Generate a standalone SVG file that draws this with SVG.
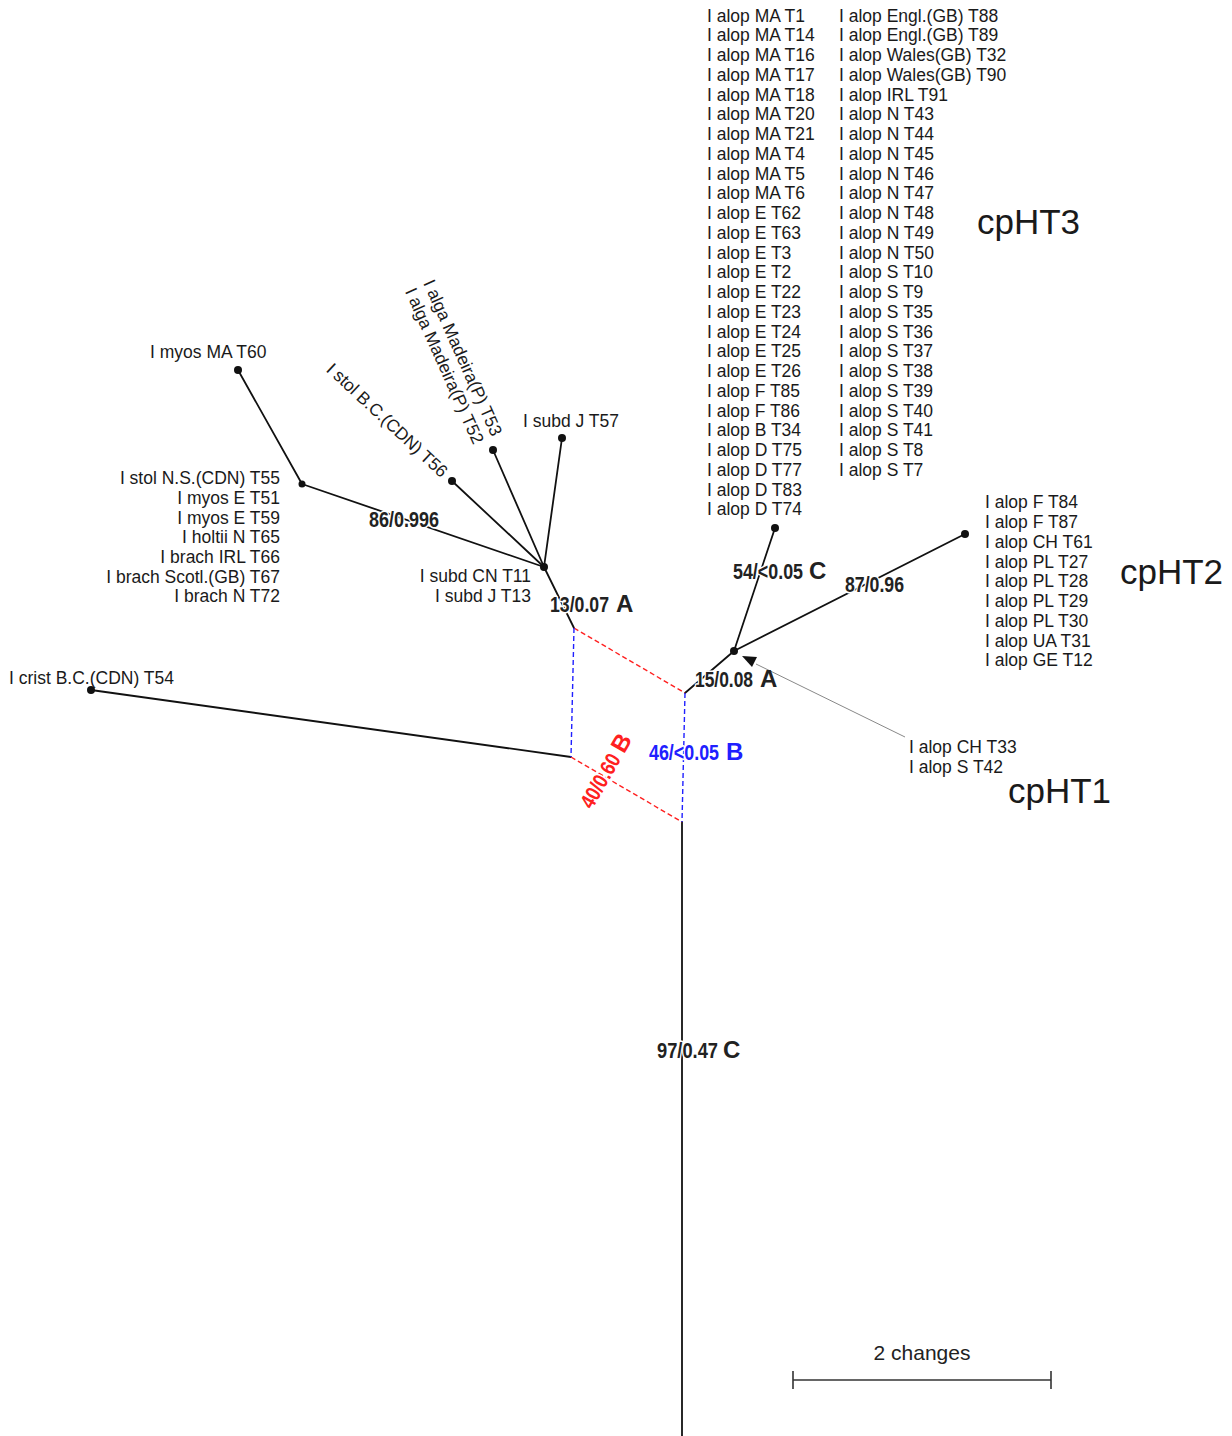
<svg xmlns="http://www.w3.org/2000/svg" width="1232" height="1436" viewBox="0 0 1232 1436">
<style>
.br{stroke:#111;stroke-width:1.8;fill:none;stroke-linecap:round}
.rd{stroke:#ff2020;stroke-width:1.4;stroke-dasharray:5 3;fill:none}
.bd{stroke:#2020ff;stroke-width:1.4;stroke-dasharray:5 3;fill:none}
.dot{fill:#111}
.lb{font-family:"Liberation Sans",Arial,sans-serif;font-size:17.5px;fill:#1a1a1a}
.big{font-family:"Liberation Sans",Arial,sans-serif;font-size:35px;fill:#1a1a1a}
.sv{font-family:"Liberation Sans",Arial,sans-serif;font-size:21.5px;font-weight:bold;fill:#222;stroke:#fff;stroke-width:3;paint-order:stroke;stroke-linejoin:round}
.lt{font-family:"Liberation Sans",Arial,sans-serif;font-size:24px;font-weight:bold;fill:#222}
.red{fill:#ff2020}
.blue{fill:#2020ff}
</style>
<rect width="1232" height="1436" fill="#fff"/>
<g id="connectors">
<line class="br" x1="544" y1="567" x2="302" y2="484"/>
<line class="br" x1="302" y1="484" x2="238" y2="370"/>
<line class="br" x1="544" y1="567" x2="452" y2="481"/>
<line class="br" x1="544" y1="567" x2="493" y2="450"/>
<line class="br" x1="544" y1="567" x2="562" y2="438"/>
<line class="br" x1="544" y1="567" x2="574" y2="628"/>
<line class="br" x1="685" y1="693" x2="734" y2="651"/>
<line class="br" x1="734" y1="651" x2="775" y2="528"/>
<line class="br" x1="734" y1="651" x2="965" y2="534"/>
<line class="br" x1="571" y1="757" x2="91" y2="690"/>
<line class="br" x1="682" y1="822" x2="682" y2="1436"/>
<line class="rd" x1="574" y1="628" x2="685" y2="693"/>
<line class="rd" x1="571" y1="757" x2="682" y2="822"/>
<line class="bd" x1="574" y1="628" x2="571" y2="757"/>
<line class="bd" x1="685" y1="693" x2="682" y2="822"/>
<line x1="905" y1="737" x2="756" y2="664" stroke="#888" stroke-width="1"/>
<polygon points="742,656 757,657 752,667" fill="#111"/>
</g>
<g id="node-hubA">
<circle class="dot" cx="544" cy="567" r="4"/>
<text class="lb" text-anchor="end"><tspan x="531" y="582">I subd CN T11</tspan><tspan x="531" y="602">I subd J T13</tspan></text>
</g>
<g id="node-hub-left">
<circle class="dot" cx="302" cy="484" r="3.5"/>
<text class="lb" text-anchor="end"><tspan x="280" y="484.3">I stol N.S.(CDN) T55</tspan><tspan x="280" dy="19.67">I myos E T51</tspan><tspan x="280" dy="19.67">I myos E T59</tspan><tspan x="280" dy="19.67">I holtii N T65</tspan><tspan x="280" dy="19.67">I brach IRL T66</tspan><tspan x="280" dy="19.67">I brach Scotl.(GB) T67</tspan><tspan x="280" dy="19.67">I brach N T72</tspan></text>
</g>
<g id="node-T60">
<circle class="dot" cx="238" cy="370" r="4"/>
<text class="lb" x="150" y="358">I myos MA T60</text>
</g>
<g id="node-T56">
<circle class="dot" cx="452" cy="481" r="4"/>
<g transform="translate(445,474) rotate(43)"><text class="lb" x="0" y="6" text-anchor="end" textLength="158" lengthAdjust="spacing">I stol B.C.(CDN) T56</text></g>
</g>
<g id="node-T53">
<circle class="dot" cx="493" cy="450" r="4"/>
<g transform="translate(488,439) rotate(66)"><text class="lb" text-anchor="end"><tspan x="0" y="-4">I alga Madeira(P) T53</tspan><tspan x="0" y="16">I alga Madeira(P) T52</tspan></text></g>
</g>
<g id="node-T57">
<circle class="dot" cx="562" cy="438" r="4"/>
<text class="lb" x="523" y="427">I subd J T57</text>
</g>
<g id="node-T54">
<circle class="dot" cx="91" cy="690" r="4"/>
<text class="lb" x="9" y="684">I crist B.C.(CDN) T54</text>
</g>
<g id="node-cpHT3">
<circle class="dot" cx="775" cy="528" r="4"/>
<text class="lb"><tspan x="707" y="21.5">I alop MA T1</tspan><tspan x="707" dy="19.75">I alop MA T14</tspan><tspan x="707" dy="19.75">I alop MA T16</tspan><tspan x="707" dy="19.75">I alop MA T17</tspan><tspan x="707" dy="19.75">I alop MA T18</tspan><tspan x="707" dy="19.75">I alop MA T20</tspan><tspan x="707" dy="19.75">I alop MA T21</tspan><tspan x="707" dy="19.75">I alop MA T4</tspan><tspan x="707" dy="19.75">I alop MA T5</tspan><tspan x="707" dy="19.75">I alop MA T6</tspan><tspan x="707" dy="19.75">I alop E T62</tspan><tspan x="707" dy="19.75">I alop E T63</tspan><tspan x="707" dy="19.75">I alop E T3</tspan><tspan x="707" dy="19.75">I alop E T2</tspan><tspan x="707" dy="19.75">I alop E T22</tspan><tspan x="707" dy="19.75">I alop E T23</tspan><tspan x="707" dy="19.75">I alop E T24</tspan><tspan x="707" dy="19.75">I alop E T25</tspan><tspan x="707" dy="19.75">I alop E T26</tspan><tspan x="707" dy="19.75">I alop F T85</tspan><tspan x="707" dy="19.75">I alop F T86</tspan><tspan x="707" dy="19.75">I alop B T34</tspan><tspan x="707" dy="19.75">I alop D T75</tspan><tspan x="707" dy="19.75">I alop D T77</tspan><tspan x="707" dy="19.75">I alop D T83</tspan><tspan x="707" dy="19.75">I alop D T74</tspan></text>
<text class="lb"><tspan x="839" y="21.5">I alop Engl.(GB) T88</tspan><tspan x="839" dy="19.75">I alop Engl.(GB) T89</tspan><tspan x="839" dy="19.75">I alop Wales(GB) T32</tspan><tspan x="839" dy="19.75">I alop Wales(GB) T90</tspan><tspan x="839" dy="19.75">I alop IRL T91</tspan><tspan x="839" dy="19.75">I alop N T43</tspan><tspan x="839" dy="19.75">I alop N T44</tspan><tspan x="839" dy="19.75">I alop N T45</tspan><tspan x="839" dy="19.75">I alop N T46</tspan><tspan x="839" dy="19.75">I alop N T47</tspan><tspan x="839" dy="19.75">I alop N T48</tspan><tspan x="839" dy="19.75">I alop N T49</tspan><tspan x="839" dy="19.75">I alop N T50</tspan><tspan x="839" dy="19.75">I alop S T10</tspan><tspan x="839" dy="19.75">I alop S T9</tspan><tspan x="839" dy="19.75">I alop S T35</tspan><tspan x="839" dy="19.75">I alop S T36</tspan><tspan x="839" dy="19.75">I alop S T37</tspan><tspan x="839" dy="19.75">I alop S T38</tspan><tspan x="839" dy="19.75">I alop S T39</tspan><tspan x="839" dy="19.75">I alop S T40</tspan><tspan x="839" dy="19.75">I alop S T41</tspan><tspan x="839" dy="19.75">I alop S T8</tspan><tspan x="839" dy="19.75">I alop S T7</tspan></text>
<text class="big" x="977" y="233.5">cpHT3</text>
</g>
<g id="node-cpHT2">
<circle class="dot" cx="965" cy="534" r="4"/>
<text class="lb"><tspan x="985" y="508.3">I alop F T84</tspan><tspan x="985" dy="19.75">I alop F T87</tspan><tspan x="985" dy="19.75">I alop CH T61</tspan><tspan x="985" dy="19.75">I alop PL T27</tspan><tspan x="985" dy="19.75">I alop PL T28</tspan><tspan x="985" dy="19.75">I alop PL T29</tspan><tspan x="985" dy="19.75">I alop PL T30</tspan><tspan x="985" dy="19.75">I alop UA T31</tspan><tspan x="985" dy="19.75">I alop GE T12</tspan></text>
<text class="big" x="1120" y="583.5">cpHT2</text>
</g>
<g id="node-cpHT1">
<circle class="dot" cx="734" cy="651" r="4"/>
<text class="lb"><tspan x="909" y="753">I alop CH T33</tspan><tspan x="909" dy="20">I alop S T42</tspan></text>
<text class="big" x="1008" y="802.5">cpHT1</text>
</g>
<g id="support-labels">
<text class="sv" x="550" y="612" textLength="59" lengthAdjust="spacingAndGlyphs">13/0.07</text>
<text class="lt" x="616" y="612">A</text>
<text class="sv" x="369" y="527" textLength="70" lengthAdjust="spacingAndGlyphs">86/0.996</text>
<text class="sv" x="733" y="579" textLength="70" lengthAdjust="spacingAndGlyphs">54/&lt;0.05</text>
<text class="lt" x="809" y="579">C</text>
<text class="sv" x="845" y="592" textLength="59" lengthAdjust="spacingAndGlyphs">87/0.96</text>
<text class="sv" x="695" y="687" textLength="58" lengthAdjust="spacingAndGlyphs">15/0.08</text>
<text class="lt" x="760" y="687">A</text>
<text class="sv blue" x="649" y="760" textLength="70" lengthAdjust="spacingAndGlyphs">46/&lt;0.05</text>
<text class="lt blue" x="726" y="760">B</text>
<g transform="translate(592,810) rotate(-60)">
<text class="sv red" x="0" y="0" textLength="59" lengthAdjust="spacingAndGlyphs">40/0.60</text>
<text class="lt red" x="64" y="0">B</text>
</g>
<text class="sv" x="657" y="1058" textLength="61" lengthAdjust="spacingAndGlyphs">97/0.47</text>
<text class="lt" x="723" y="1058">C</text>
</g>
<g id="scale-bar">
<line x1="793" y1="1380" x2="1051" y2="1380" stroke="#333" stroke-width="1.6"/>
<line x1="793" y1="1371" x2="793" y2="1389" stroke="#333" stroke-width="1.6"/>
<line x1="1051" y1="1371" x2="1051" y2="1389" stroke="#333" stroke-width="1.6"/>
<text x="922" y="1360" text-anchor="middle" style="font-family:'Liberation Sans',Arial,sans-serif;font-size:21px;fill:#222">2 changes</text>
</g>
</svg>
